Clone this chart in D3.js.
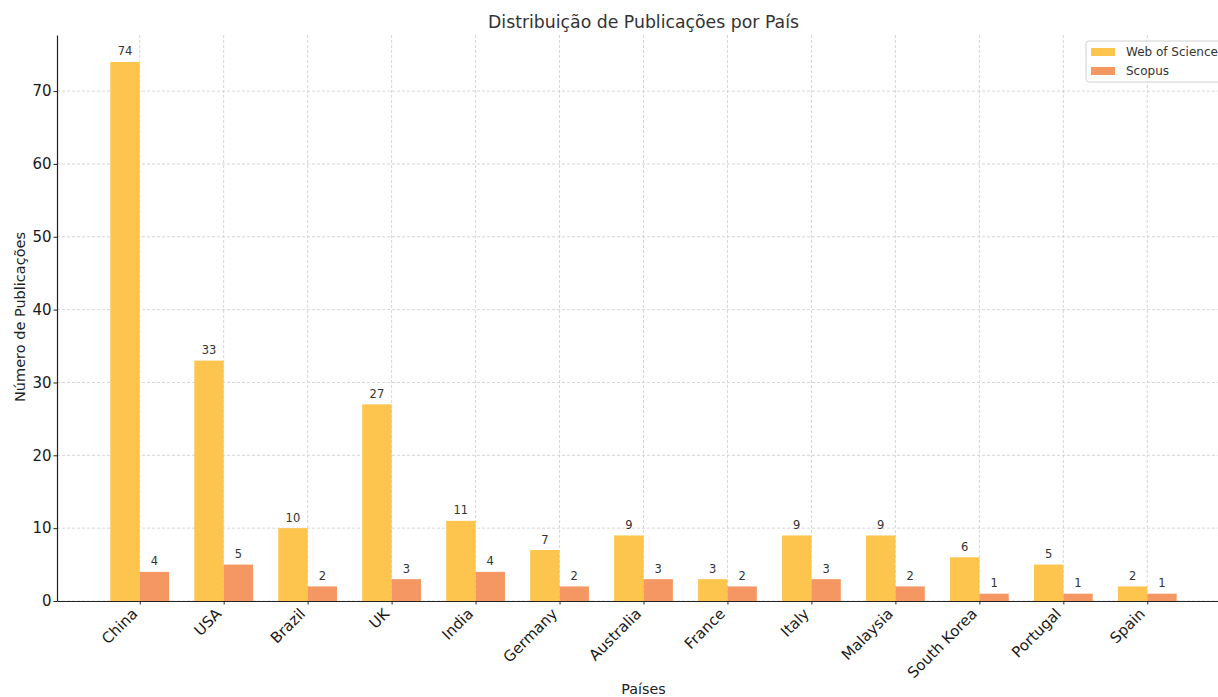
<!DOCTYPE html>
<html>
<head>
<meta charset="utf-8">
<script src="https://cdn.jsdelivr.net/npm/d3@7"></script>
<style>
  body { margin: 0; background: #fff; }
  text { font-family: "DejaVu Sans", sans-serif; }
</style>
</head>
<body>
<svg id="chart" width="1218" height="697"></svg>
<script>
var countries = ["China", "USA", "Brazil", "UK", "India", "Germany", "Australia", "France", "Italy", "Malaysia", "South Korea", "Portugal", "Spain"];
var wos = [74, 33, 10, 27, 11, 7, 9, 3, 9, 9, 6, 5, 2];
var scopus = [4, 5, 2, 3, 4, 2, 3, 2, 3, 2, 1, 1, 1];
var yTicks = [0, 10, 20, 30, 40, 50, 60, 70];
var seriesNames = ["Web of Science", "Scopus"];
var colors = ["#fec54e", "#f59762"];

var svg = d3.select("#chart");
var margin = {left: 57, top: 35, bottom: 96};
var plotW = 1173, plotH = 697 - margin.top - margin.bottom;
var g = svg.append("g").attr("transform", "translate(" + margin.left + "," + margin.top + ")");

var barW = 0.35;
var x = d3.scaleLinear().domain([-0.985, countries.length - 1 + 0.985]).range([0, plotW]);
var y = d3.scaleLinear().domain([0, d3.max(wos) * 1.05]).range([plotH, 0]);

// grid
g.append("g").selectAll("line").data(yTicks).join("line")
  .attr("x1", 0).attr("x2", plotW)
  .attr("y1", d => y(d)).attr("y2", d => y(d))
  .attr("stroke", "#cccccc").attr("stroke-width", 0.8).attr("stroke-dasharray", "3,2");
g.append("g").selectAll("line").data(countries).join("line")
  .attr("x1", (d, i) => x(i)).attr("x2", (d, i) => x(i))
  .attr("y1", 0).attr("y2", plotH)
  .attr("stroke", "#cccccc").attr("stroke-width", 0.8).attr("stroke-dasharray", "3,2");

// bars
[wos, scopus].forEach(function(vals, s) {
  var off = s === 0 ? -barW : 0;
  g.append("g").selectAll("rect").data(vals).join("rect")
    .attr("x", (d, i) => x(i + off))
    .attr("y", d => y(d))
    .attr("width", x(barW) - x(0))
    .attr("height", d => plotH - y(d))
    .attr("fill", colors[s]);
  g.append("g").selectAll("text").data(vals).join("text")
    .attr("x", (d, i) => x(i + off + barW / 2))
    .attr("y", d => y(d) - 6.5)
    .attr("text-anchor", "middle")
    .attr("font-size", "11.5px")
    .attr("fill", "#333")
    .text(d => d);
});

// axes
var xAxis = g.append("g").attr("transform", "translate(0," + plotH + ")")
  .call(d3.axisBottom(x).tickValues(d3.range(countries.length)).tickFormat(i => countries[i]).tickSize(3.5).tickSizeOuter(0));
xAxis.select(".domain").attr("stroke", "#222").attr("stroke-width", 1.2);
xAxis.selectAll(".tick line").attr("stroke", "#222");
xAxis.selectAll(".tick text")
  .attr("font-size", "15px").attr("fill", "#1a1a1a")
  .attr("text-anchor", "end")
  .attr("dx", null).attr("dy", null).attr("y", null)
  .attr("transform", "translate(-5,10.5) rotate(-45)")
  .attr("dominant-baseline", "middle");

var yAxis = g.append("g")
  .call(d3.axisLeft(y).tickValues(yTicks).tickSize(3.5).tickPadding(2).tickSizeOuter(0));
yAxis.select(".domain").attr("stroke", "#222").attr("stroke-width", 1.2);
yAxis.selectAll(".tick line").attr("stroke", "#222");
yAxis.selectAll(".tick text").attr("font-size", "15px").attr("fill", "#1a1a1a");

// titles
svg.append("text").attr("x", margin.left + plotW / 2).attr("y", 28)
  .attr("text-anchor", "middle").attr("font-size", "17.3px").attr("fill", "#333")
  .text("Distribuição de Publicações por País");
svg.append("text").attr("x", margin.left + plotW / 2).attr("y", 694)
  .attr("text-anchor", "middle").attr("font-size", "14.3px").attr("fill", "#222")
  .text("Países");
svg.append("text").attr("transform", "translate(25," + (margin.top + plotH / 2 - 1) + ") rotate(-90)")
  .attr("text-anchor", "middle").attr("font-size", "14.5px").attr("fill", "#222")
  .text("Número de Publicações");

// legend
var lg = svg.append("g").attr("transform", "translate(1086,41)");
lg.append("rect").attr("width", 140).attr("height", 41).attr("rx", 3)
  .attr("fill", "#fff").attr("fill-opacity", 0.85).attr("stroke", "#d0d0d0");
seriesNames.forEach(function(n, i) {
  lg.append("rect").attr("x", 5).attr("y", 7 + i * 19).attr("width", 24).attr("height", 8).attr("fill", colors[i]);
  lg.append("text").attr("x", 40).attr("y", 15 + i * 19).attr("font-size", "12px").attr("fill", "#333").text(n);
});
</script>
</body>
</html>
